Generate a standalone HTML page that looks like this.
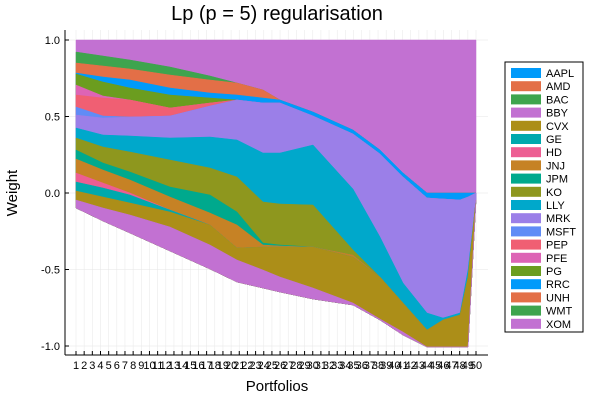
<!DOCTYPE html>
<html><head><meta charset="utf-8"><style>body{margin:0;background:#fff}svg{display:block;font-family:"Liberation Sans",sans-serif}</style></head>
<body><svg id="s" width="600" height="400" xmlns="http://www.w3.org/2000/svg">
<rect width="600" height="400" fill="#fff"/>
<g id="grid"></g><g id="areas"></g><g id="ax"></g>
<text x="277" y="20" font-size="20" text-anchor="middle" fill="#000">Lp (p = 5) regularisation</text>
<text x="277" y="391" font-size="15" text-anchor="middle">Portfolios</text>
<text transform="translate(17,193) rotate(-90)" font-size="15" text-anchor="middle">Weight</text>
<g id="leg"></g>
</svg>
<script>
var NS="http://www.w3.org/2000/svg";
function el(p,t,a,txt){var e=document.createElementNS(NS,t);for(var k in a)e.setAttribute(k,a[k]);if(txt!=null)e.textContent=txt;document.getElementById(p).appendChild(e);return e;}
var xs=[76,103,130,170,210,237,263,280,313,353,380,403,427,443,460,468,476];
var T=xs.map(function(){return 40});
var B=[T,
[52,56,60,67,76,83,90,100,112,130,150,173,193,193,193,193,193],
[63,66,69,75,80,83,90,100,112,130,150,173,193,193,193,193,193],
[73,77,80,88,93,95,98,100,112,130,150,173,193,193,193,193,193],
[74,82,88,95,98,100,103,103,116,134,154,177,198,199,200,197,193],
[85,96,100,108,103,100,103,103,116,134,154,177,198,199,200,197,193],
[95,98,100,108,103,100,103,103,116,134,154,177,198,199,200,197,193],
[107,116,117,116,106,100,103,103,116,134,154,177,198,199,200,197,193],
[115,118,117,116,106,100,103,103,116,134,154,177,198,199,200,197,193],
[128,135,136,138,137,140,153,153,145,189,237,283,313,318,313,270,200],
[138,147,152,160,168,177,202,204,205,250,277,303,330,320,315,277,200],
[150,163,172,187,195,212,243,245,247,255,277,303,330,320,315,277,200],
[159,170,180,197,213,225,245,246,247,255,277,303,330,320,315,277,200],
[173,183,193,210,225,248,247,247,247,257,277,303,330,320,315,277,200],
[182,188,195,210,225,248,247,247,247,257,277,303,330,320,315,277,200],
[191,197,203,212,225,248,247,247,247,257,277,303,330,320,315,277,200],
[200,208,215,227,245,260,270,277,288,303,319,332,347,347,347,347,200],
[208,221,233,251,269,282,288,292,299,305,320,335,347,347,347,347,200]];
var cols=["#C271D2","#3EA44E","#E36F47","#009AFA","#6B9D1F","#DD64B5","#F05F73","#608CF6","#9B7FE8","#00A8CB","#8E971E","#00A98D","#C68225","#ED5E93","#00A9AD","#AC8E18","#C271D2"];
var last=B[B.length-1];
// grid
for(var i=0;i<50;i++){var x=76+i*(400/49);el("grid","line",{x1:x,x2:x,y1:30,y2:355,stroke:"#ebebeb","stroke-width":0.6});}
[40,116.5,193,269.5,346].forEach(function(y){el("grid","line",{x1:65,x2:488,y1:y,y2:y,stroke:"#e6e6e6","stroke-width":0.6});});
for(var k=0;k<cols.length;k++){
 var d="M";var b=B[k];
 for(var j=0;j<xs.length;j++)d+=xs[j]+","+b[j]+" L";
 for(var j=xs.length-1;j>=0;j--)d+=xs[j]+","+last[j]+(j?" L":"");
 el("areas","path",{d:d+"Z",fill:cols[k],stroke:cols[k],"stroke-width":0.5});
}
// axes
el("ax","line",{x1:65,x2:65,y1:30,y2:355,stroke:"#000","stroke-width":1});
el("ax","line",{x1:65,x2:488,y1:355,y2:355,stroke:"#000","stroke-width":1});
[["1.0",40],["0.5",116.5],["0.0",193],["-0.5",269.5],["-1.0",346]].forEach(function(t){
 el("ax","line",{x1:65,x2:69,y1:t[1],y2:t[1],stroke:"#000"});
 el("ax","text",{x:60,y:t[1]+4,"font-size":11,"text-anchor":"end"},t[0]);});
for(var i=0;i<50;i++){var x=76+i*(400/49);
 el("ax","line",{x1:x,x2:x,y1:355,y2:351,stroke:"#000"});
 el("ax","text",{x:x,y:369,"font-size":11,"text-anchor":"middle"},String(i+1));}
// legend
el("leg","rect",{x:505,y:62,width:78,height:270,fill:"#fff",stroke:"#000","stroke-width":1});
var names=["AAPL","AMD","BAC","BBY","CVX","GE","HD","JNJ","JPM","KO","LLY","MRK","MSFT","PEP","PFE","PG","RRC","UNH","WMT","XOM"];
var lc=["#009AFA","#E36F47","#3EA44E","#C271D2","#AC8E18","#00A9AD","#ED5E93","#C68225","#00A98D","#8E971E","#00A8CB","#9B7FE8","#608CF6","#F05F73","#DD64B5","#6B9D1F","#009AFA","#E36F47","#3EA44E","#C271D2"];
for(var i=0;i<20;i++){var y=73+i*13.2;
 el("leg","rect",{x:511,y:y-5,width:30,height:10,fill:lc[i]});
 el("leg","text",{x:546,y:y+4,"font-size":11},names[i]);}
</script></body></html>
